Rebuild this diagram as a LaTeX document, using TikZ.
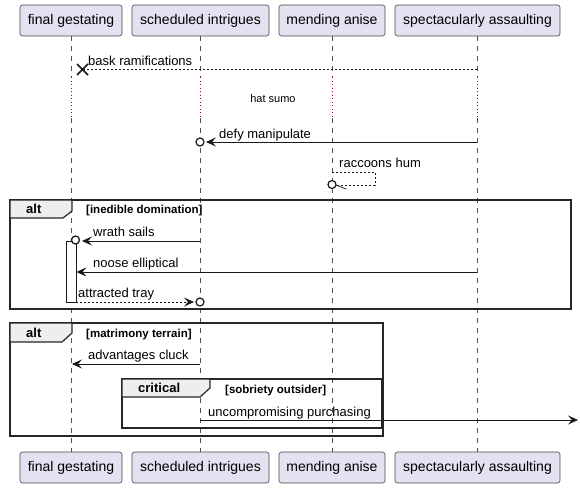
\documentclass[tikz,border=0pt]{standalone}
\usepackage{fontspec}
\setmainfont{Liberation Sans}
\usetikzlibrary{arrows.meta}
\definecolor{pfill}{HTML}{E2E2F0}
\definecolor{pline}{HTML}{181818}
\definecolor{delayc}{HTML}{A80036}
\definecolor{tabfill}{HTML}{EEEEEE}
\begin{document}
\begin{tikzpicture}[x=1pt,y=-1pt,
 part/.style={draw=pline!80, line width=0.6pt, fill=pfill, rounded corners=2.5pt, minimum height=31pt, inner sep=0pt, font=\fontsize{14}{16}\selectfont, text=black},
 life/.style={draw=pline!75, line width=0.5pt, dash pattern=on 5pt off 5pt},
 delayl/.style={draw=delayc, line width=0.7pt, dash pattern=on 1pt off 2.5pt},
 msg/.style={draw=pline, line width=0.8pt},
 ret/.style={msg, dash pattern=on 2pt off 2pt},
 head/.style={-{Stealth[length=10pt,width=9pt,inset=4pt]}},
 lbl/.style={anchor=base west, inner sep=0pt, font=\fontsize{13}{15}\selectfont},
 guard/.style={anchor=base west, inner sep=0pt, font=\bfseries\fontsize{11.5}{13}\selectfont},
 tabl/.style={anchor=base west, inner sep=0pt, font=\bfseries\fontsize{13}{15}\selectfont},
 frm/.style={draw=black!85, line width=1.5pt},
 tabshape/.style={draw=black!85, line width=1.2pt, fill=tabfill},
 ring/.style={circle, draw=pline, line width=1.2pt, fill=white, minimum size=8pt, inner sep=0pt},
]
\useasboundingbox (0,0) rectangle (580,487);

% participants
\node[part, minimum width=102pt] (tA) at (71,20.5) {final gestating};
\node[part, minimum width=137pt] (tB) at (200.5,20.5) {scheduled intrigues};
\node[part, minimum width=106pt] (tC) at (332,20.5) {mending anise};
\node[part, minimum width=165pt] (tD) at (477.5,20.5) {spectacularly assaulting};
\node[part, minimum width=102pt] (bA) at (71,467.5) {final gestating};
\node[part, minimum width=137pt] (bB) at (200.5,467.5) {scheduled intrigues};
\node[part, minimum width=106pt] (bC) at (332,467.5) {mending anise};
\node[part, minimum width=165pt] (bD) at (477.5,467.5) {spectacularly assaulting};

% lifeline coordinates
\foreach \n/\x in {A/71,B/200,C/332,D/477}{
  \coordinate (s\n) at (\x,36);
  \coordinate (u\n) at (\x,77);
  \coordinate (v\n) at (\x,118);
  \coordinate (e\n) at (\x,452);
  \draw[life] (s\n) -- (u\n);
  \draw[delayl] (u\n) -- (v\n);
  \draw[life] (v\n) -- (e\n);
}

% frames
\draw[frm] (10,200) rectangle (571,309);
\draw[tabshape] (10,200) -- (72,200) -- (72,211) -- (63,218) -- (10,218) -- cycle;
\node[tabl] (altA) at (26,213) {alt};
\node[guard] (gA) at (86,213) {[inedible domination]};

\draw[frm] (10,323) rectangle (383,436);
\draw[tabshape] (10,323) -- (72,323) -- (72,333) -- (62,342) -- (10,342) -- cycle;
\node[tabl] (altB) at (26,337) {alt};
\node[guard] (gB) at (86,337) {[matrimony terrain]};

\draw[frm] (122,379) rectangle (382,428);
\draw[tabshape] (122,379) -- (210,379) -- (210,388) -- (200,397) -- (122,397) -- cycle;
\node[tabl] (crit) at (138,392) {critical};
\node[guard] (gC) at (225,393) {[sobriety outsider]};

% message 1: bask ramifications
\coordinate (m1s) at (477,69);
\coordinate (m1e) at (82,69);
\draw[ret] (m1s) -- (m1e);
\draw[pline, line width=1.6pt] (77,64) -- (88,75) (77,75) -- (88,64);
\node[lbl] (l1) at (88,65) {bask ramifications};

% delay text
\node[anchor=base, inner sep=0pt, font=\fontsize{11}{13}\selectfont] (dl) at (273,102) {hat sumo};

% message 2: defy manipulate
\coordinate (m2s) at (477,142);
\coordinate (m2e) at (206,142);
\draw[msg,head] (m2s) -- (m2e);
\node[ring] (r2) at (200,142) {};
\node[lbl] (l2) at (219,138) {defy manipulate};

% message 3: raccoons hum (self)
\coordinate (m3s) at (332,172);
\coordinate (m3a) at (375,172);
\coordinate (m3b) at (375,185);
\coordinate (m3e) at (336,185);
\coordinate (m3w) at (346,189);
\draw[ret] (m3s) -- (m3a) -- (m3b) -- (m3e);
\draw[msg] (m3e) -- (m3w);
\node[ring] (r3) at (332,184.5) {};
\node[lbl] (l3) at (339,167) {raccoons hum};

% activation bar
\node[draw=pline, line width=0.8pt, fill=white, minimum width=10pt, minimum height=61pt, inner sep=0pt] (act) at (71,271.5) {};

% message 4: wrath sails
\coordinate (m4s) at (200,241);
\coordinate (m4e) at (82,241);
\draw[msg,head] (m4s) -- (m4e);
\node[ring] (r4) at (75.5,240) {};
\node[lbl] (l4) at (93,236) {wrath sails};

% message 5: noose elliptical
\coordinate (m5s) at (477,272);
\draw[msg,head] (m5s) -- (act.east |- m5s);
\node[lbl] (l5) at (93,267) {noose elliptical};

% message 6: attracted tray
\coordinate (m6s) at (76,302);
\coordinate (m6e) at (194,302);
\draw[ret,head] (m6s) -- (m6e);
\node[ring] (r6) at (200,302) {};
\node[lbl] (l6) at (78,297) {attracted tray};

% message 7: advantages cluck
\coordinate (m7s) at (200,364);
\coordinate (m7e) at (72,364);
\draw[msg,head] (m7s) -- (m7e);
\node[lbl] (l7) at (88,359) {advantages cluck};

% message 8: uncompromising purchasing
\coordinate (m8s) at (200,420);
\coordinate (m8e) at (578,420);
\draw[msg,head] (m8s) -- (m8e);
\node[lbl] (l8) at (208,416) {uncompromising purchasing};
\end{tikzpicture}
\end{document}
